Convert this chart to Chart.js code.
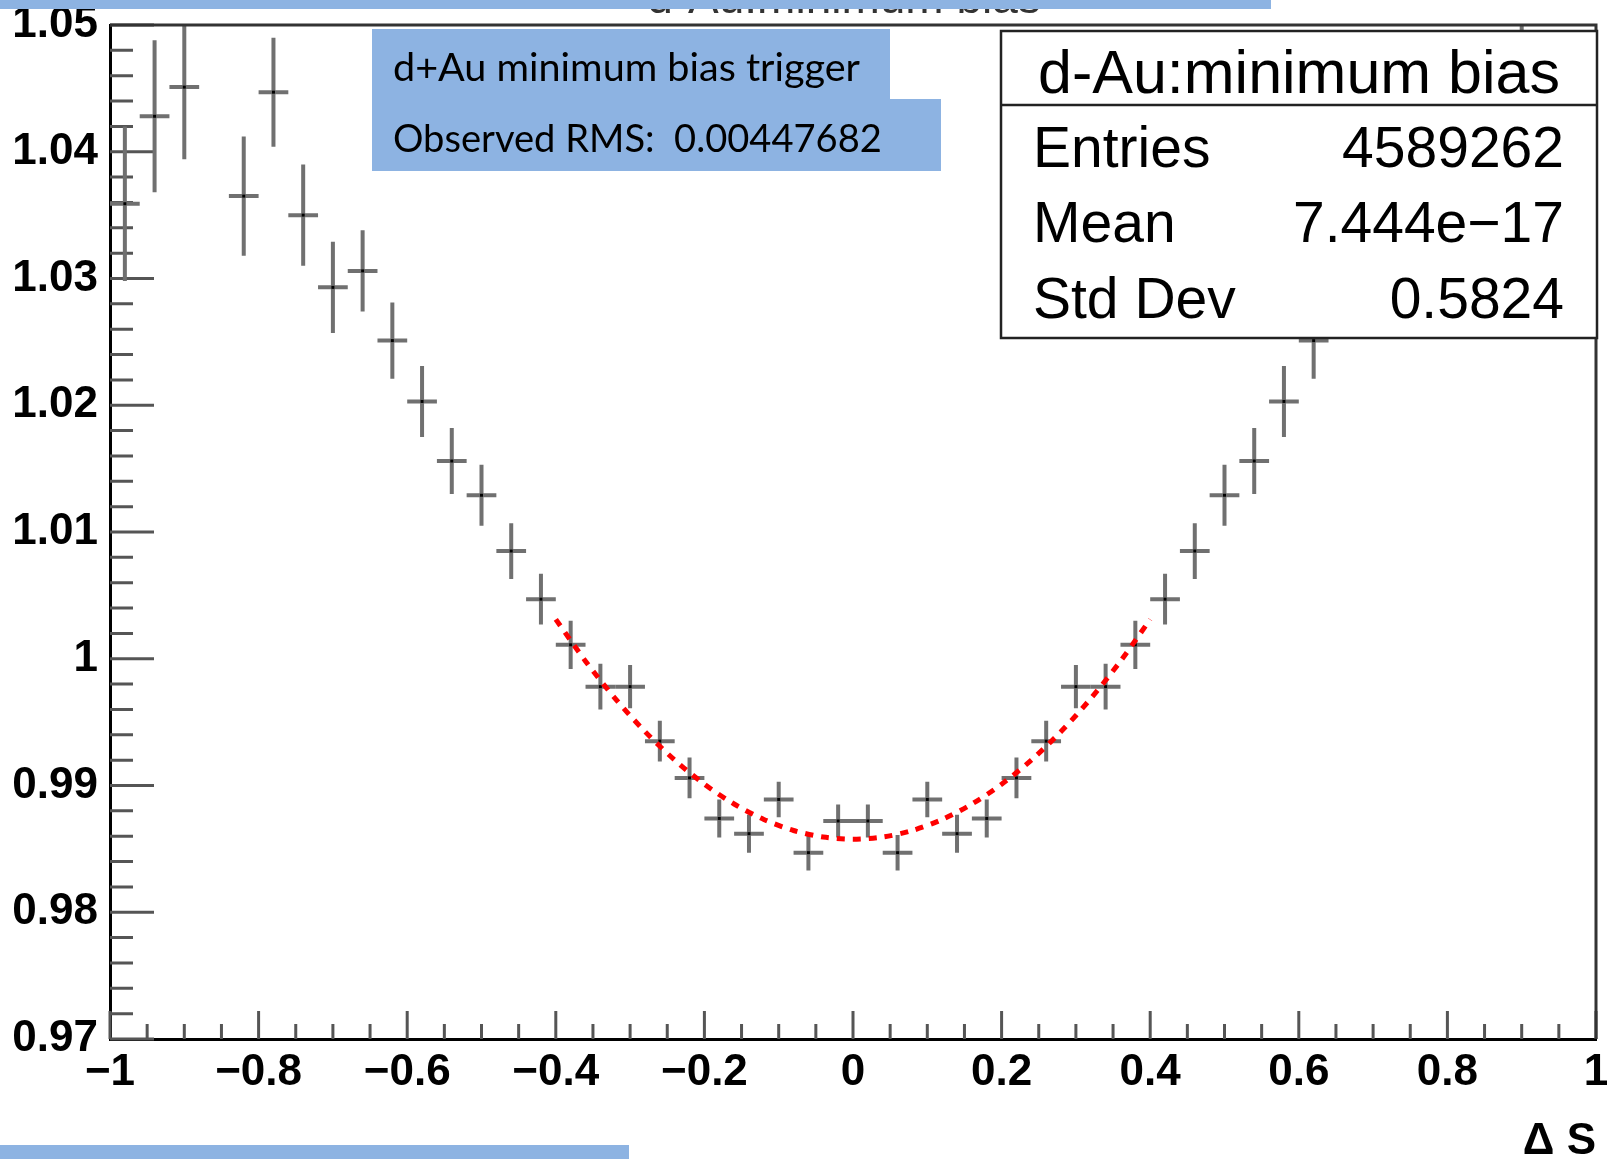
<!DOCTYPE html>
<html><head><meta charset="utf-8">
<script src="https://cdn.jsdelivr.net/npm/chart.js@4.4.1/dist/chart.umd.min.js"></script>
<style>html,body{margin:0;padding:0;background:#fff;overflow:hidden}canvas{display:block}</style>
</head><body>
<canvas id="c" width="1614" height="1159"></canvas>
<script>
// ---------- data ----------
const binCenters = [-0.98,-0.94,-0.90,-0.86,-0.82,-0.78,-0.74,-0.70,-0.66,-0.62,
  -0.58,-0.54,-0.50,-0.46,-0.42,-0.38,-0.34,-0.30,-0.26,-0.22,
  -0.18,-0.14,-0.10,-0.06,-0.02,0.02,0.06,0.10,0.14,0.18,
  0.22,0.26,0.30,0.34,0.38,0.42,0.46,0.50,0.54,0.58,
  0.62,0.66,0.70,0.74,0.78,0.82,0.86,0.90,0.94,0.98];
const values = [1.0359,1.0428,1.0451,null,1.0365,1.0447,1.0350,1.0293,1.0306,1.0251,
  1.0203,1.0156,1.0129,1.0085,1.0047,1.0011,0.9978,0.9978,0.9935,0.9906,
  0.9874,0.9862,0.9889,0.9847,0.9872,0.9872,0.9847,0.9889,0.9862,0.9874,
  0.9906,0.9935,0.9978,0.9978,1.0011,1.0047,1.0085,1.0129,1.0156,1.0203,
  1.0251,1.0306,1.0293,1.0350,1.0447,1.0365,null,1.0451,1.0428,1.0359];
const errors = [0.0061,0.0060,0.0057,0.0052,0.0047,0.0043,0.0040,0.0036,0.0032,0.0030,
  0.0028,0.0026,0.0024,0.0022,0.0020,0.0019,0.0018,0.0017,0.0016,0.0016,
  0.0015,0.0015,0.0014,0.0014,0.0013,0.0013,0.0014,0.0014,0.0015,0.0015,
  0.0016,0.0016,0.0017,0.0018,0.0019,0.0020,0.0022,0.0024,0.0026,0.0028,
  0.0030,0.0032,0.0036,0.0040,0.0043,0.0047,0.0052,0.0057,0.0060,0.0061];
const binHalfWidth = 0.02;
const fitX = [-0.40,-0.36,-0.32,-0.28,-0.24,-0.20,-0.16,-0.12,-0.08,-0.04,0.00,
  0.04,0.08,0.12,0.16,0.20,0.24,0.28,0.32,0.36,0.40];
const fitY = [1.00311,0.99981,0.99686,0.99426,0.99201,0.99010,0.98854,0.98732,0.98645,0.98593,0.98576,
  0.98593,0.98645,0.98732,0.98854,0.99010,0.99201,0.99426,0.99686,0.99981,1.00311];
const histTitle = 'd-Au:minimum bias';
const statsLabels = ['Entries','Mean','Std Dev'];
const statsValues = ['4589262','7.444e\u221217','0.5824'];
const noteLines = ['d+Au minimum bias trigger','Observed RMS:  0.00447682'];
const xAxisTitle = '\u0394 S';

// ---------- styling ----------
const FONT = '"Liberation Sans", Arial, Helvetica, sans-serif';
const NOTE_FONT = 'Lato, "Open Sans", sans-serif';
const BLUE = '#8DB3E2';
const fmt = v => { const s = parseFloat(Number(v).toFixed(2)).toString(); return s.replace('-', '\u2212'); };

const ticksPlugin = {
  id: 'inwardTicks',
  beforeDatasetsDraw(chart) {
    const {ctx, chartArea: a, scales: {x, y}} = chart;
    ctx.save();
    ctx.strokeStyle = '#555'; ctx.lineWidth = 3;
    const yt = y.ticks.map(t => t.value);
    ctx.beginPath();
    yt.forEach((v, i) => {
      const p = y.getPixelForValue(v);
      ctx.moveTo(a.left, p); ctx.lineTo(a.left + 44, p);
      if (i < yt.length - 1) {
        for (let k = 1; k < 5; k++) {
          const q = y.getPixelForValue(v + (yt[i+1] - v) * k / 5);
          ctx.moveTo(a.left, q); ctx.lineTo(a.left + 23, q);
        }
      }
    });
    const xt = x.ticks.map(t => t.value);
    xt.forEach((v, i) => {
      const p = x.getPixelForValue(v);
      ctx.moveTo(p, a.bottom); ctx.lineTo(p, a.bottom - 28);
      if (i < xt.length - 1) {
        for (let k = 1; k < 4; k++) {
          const q = x.getPixelForValue(v + (xt[i+1] - v) * k / 4);
          ctx.moveTo(q, a.bottom); ctx.lineTo(q, a.bottom - 15);
        }
      }
    });
    ctx.stroke();
    ctx.restore();
  }
};

const crossPlugin = {
  id: 'crosses',
  beforeDatasetsDraw(chart) {
    const {ctx, chartArea: a, scales: {x, y}} = chart;
    ctx.save();
    ctx.beginPath(); ctx.rect(a.left, a.top, a.right - a.left, a.bottom - a.top); ctx.clip();
    ctx.strokeStyle = '#707070'; ctx.lineWidth = 4; ctx.lineCap = 'butt';
    binCenters.forEach((c, i) => {
      const v = values[i]; if (v == null) return;
      const px = x.getPixelForValue(c), py = y.getPixelForValue(v);
      ctx.beginPath();
      ctx.moveTo(x.getPixelForValue(c - binHalfWidth), py); ctx.lineTo(x.getPixelForValue(c + binHalfWidth), py);
      ctx.moveTo(px, y.getPixelForValue(v + errors[i])); ctx.lineTo(px, y.getPixelForValue(v - errors[i]));
      ctx.stroke();
      ctx.fillStyle = '#000'; ctx.fillRect(px - 1.5, py - 1.5, 3, 3);
    });
    ctx.restore();
  }
};

const framePlugin = {
  id: 'frame',
  afterDatasetsDraw(chart) {
    const {ctx, chartArea: a} = chart;
    ctx.save();
    ctx.strokeStyle = '#333'; ctx.lineWidth = 3;
    ctx.beginPath();
    ctx.moveTo(a.left, a.top); ctx.lineTo(a.right, a.top); ctx.lineTo(a.right, a.bottom);
    ctx.stroke();
    ctx.restore();
  }
};

function fitText(ctx, text, family, targetW) {
  ctx.font = '100px ' + family;
  const w = ctx.measureText(text).width;
  ctx.font = (100 * targetW / w).toFixed(2) + 'px ' + family;
}

const annotPlugin = {
  id: 'annot',
  afterDraw(chart) {
    const ctx = chart.ctx;
    ctx.save();
    // partially hidden histogram title
    ctx.font = '46px ' + FONT; ctx.fillStyle = '#333'; ctx.textAlign = 'center'; ctx.textBaseline = 'alphabetic';
    ctx.fillText(histTitle, 844, 13);
    // blue bars
    ctx.fillStyle = BLUE;
    ctx.fillRect(0, 0, 1271, 9);
    ctx.fillRect(0, 1145, 629, 14);
    // stats box
    ctx.fillStyle = '#fff'; ctx.fillRect(1001, 31, 596, 307);
    ctx.strokeStyle = '#222'; ctx.lineWidth = 2.5; ctx.strokeRect(1001, 31, 596, 307);
    ctx.beginPath(); ctx.moveTo(1001, 105); ctx.lineTo(1597, 105); ctx.stroke();
    ctx.fillStyle = '#000';
    ctx.font = '61px ' + FONT; ctx.textAlign = 'center';
    ctx.fillText(histTitle, 1299, 93);
    ctx.font = '57px ' + FONT;
    const bases = [167, 242, 318];
    statsLabels.forEach((l, i) => {
      ctx.textAlign = 'left'; ctx.fillText(l, 1033, bases[i]);
      ctx.textAlign = 'right'; ctx.fillText(statsValues[i], 1564, bases[i]);
    });
    // blue note box
    ctx.fillStyle = BLUE;
    ctx.fillRect(372, 29, 518, 71);
    ctx.fillRect(372, 99, 569, 72);
    ctx.fillStyle = '#000'; ctx.textAlign = 'left';
    fitText(ctx, noteLines[0], NOTE_FONT, 467);
    ctx.fillText(noteLines[0], 393, 81);
    fitText(ctx, noteLines[1], NOTE_FONT, 489);
    ctx.fillText(noteLines[1], 393, 152);
    ctx.restore();
  }
};

new Chart(document.getElementById('c'), {
  type: 'scatter',
  data: { datasets: [
    { label: 'data', data: binCenters.map((x, i) => ({x, y: values[i]})), pointRadius: 0, pointHoverRadius: 0, showLine: false, order: 2 },
    { label: 'fit', data: fitX.map((x, i) => ({x, y: fitY[i]})), showLine: true, borderColor: '#ff0000', borderWidth: 5,
      borderDash: [8, 8], pointRadius: 0, tension: 0.3, fill: false, order: 1 }
  ]},
  options: {
    responsive: false, animation: false, devicePixelRatio: 1, events: [],
    layout: { padding: { left: 0, top: 25, right: 18, bottom: 0 } },
    plugins: { legend: { display: false }, tooltip: { enabled: false }, title: { display: false } },
    scales: {
      x: {
        type: 'linear', min: -1, max: 1,
        grid: { display: false, drawTicks: false },
        border: { display: true, color: '#000', width: 3 },
        ticks: { stepSize: 0.2, padding: 7, color: '#000', autoSkip: false, maxRotation: 0,
          font: { family: FONT, size: 44, weight: 'bold' }, callback: fmt },
        title: { display: true, text: xAxisTitle, align: 'end', color: '#000',
          font: { family: FONT, size: 44, weight: 'bold', lineHeight: 0.75 }, padding: { top: 0, bottom: 1 } },
        afterFit(s) { s.height = 120; s.paddingLeft = 0; s.paddingRight = 0; }
      },
      y: {
        type: 'linear', min: 0.97, max: 1.05,
        grid: { display: false, drawTicks: false },
        border: { display: true, color: '#000', width: 3 },
        ticks: { stepSize: 0.01, padding: 12, color: '#000', autoSkip: false,
          font: { family: FONT, size: 44, weight: 'bold' }, callback: fmt },
        afterFit(s) { s.width = 110; s.paddingTop = 0; s.paddingBottom = 0; }
      }
    }
  },
  plugins: [ticksPlugin, crossPlugin, framePlugin, annotPlugin]
});
</script>
</body></html>
